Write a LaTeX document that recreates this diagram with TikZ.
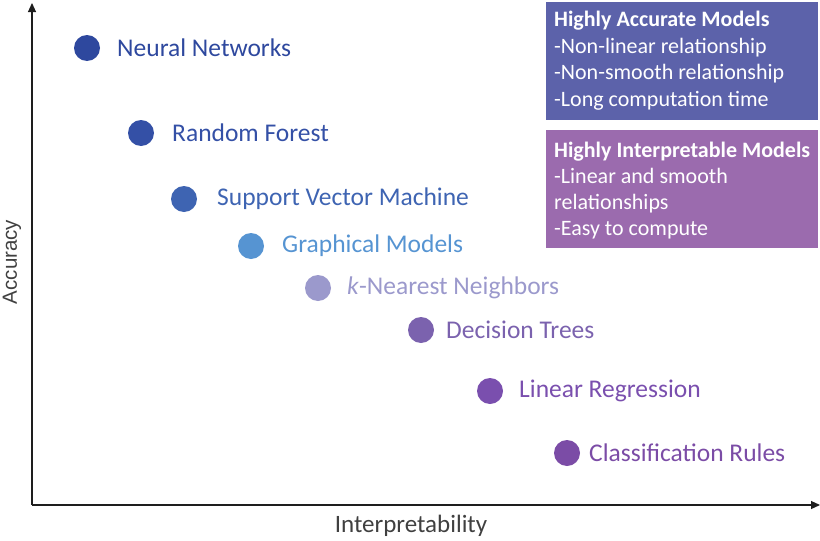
\documentclass[tikz,border=0pt]{standalone}
\usepackage{fontspec}
\setmainfont{Carlito}
\newfontfamily\arialf{Liberation Sans}
\usetikzlibrary{arrows.meta}
\definecolor{cNN}{RGB}{46,72,158}
\definecolor{cRF}{RGB}{52,80,166}
\definecolor{cSVM}{RGB}{62,100,178}
\definecolor{cGM}{RGB}{86,148,210}
\definecolor{cKNN}{RGB}{155,153,204}
\definecolor{cDT}{RGB}{123,98,174}
\definecolor{cLR}{RGB}{122,79,174}
\definecolor{cCR}{RGB}{123,76,166}
\definecolor{boxA}{RGB}{92,98,170}
\definecolor{boxB}{RGB}{155,107,174}
\definecolor{axisc}{RGB}{30,30,30}
\begin{document}
\begin{tikzpicture}[x=1pt,y=-1pt,
  dot/.style={circle,inner sep=0pt,minimum size=26pt},
  lab/.style={anchor=west,inner sep=0pt,font=\fontsize{25.5}{28}\selectfont},
  infobox/.style={anchor=north west,inner sep=0pt,minimum width=272pt,align=left,text=white},
  axis/.style={draw=axisc,line width=1.1pt,-{Triangle[length=9pt,width=8pt]}}]
\useasboundingbox (0,0) rectangle (820,541);
% axes
\coordinate (o) at (32,505);
\coordinate (ytop) at (32,3);
\coordinate (xend) at (820,505);
\draw[axis] (o) -- (ytop);
\draw[axis] (o) -- (xend);
\node[font=\fontsize{25}{28}\selectfont,text=axisc!85] (xl) at (411,526) {Interpretability};
\node[font=\arialf\fontsize{20.5}{24}\selectfont,text=axisc!85,rotate=90] (yl) at (12,262) {Accuracy};
% boxes
\node[infobox,fill=boxA,minimum height=118pt] (ba) at (546,2) {};
\node[anchor=north west,inner sep=0pt,text=white,align=left,font=\fontsize{22}{26.5}\selectfont] (ta) at (554,11)
 {\textbf{Highly Accurate Models}\\-Non-linear relationship\\-Non-smooth relationship\\-Long computation time};
\node[infobox,fill=boxB,minimum height=118pt] (bb) at (546,130) {};
\node[anchor=north west,inner sep=0pt,text=white,align=left,font=\fontsize{22}{26}\selectfont] (tb) at (554,142)
 {\textbf{Highly Interpretable Models}\\-Linear and smooth\\relationships\\-Easy to compute};
% points
\node[dot,fill=cNN] (nn) at (87,48) {};
\node[lab,text=cNN] (nnl) at (117,48) {Neural Networks};
\node[dot,fill=cRF] (rf) at (141,133) {};
\node[lab,text=cRF] (rfl) at (172,133) {Random Forest};
\node[dot,fill=cSVM] (svm) at (184,199) {};
\node[lab,text=cSVM] (svml) at (217,199) {Support Vector Machine};
\node[dot,fill=cGM] (gm) at (251,246) {};
\node[lab,text=cGM] (gml) at (282,246) {Graphical Models};
\node[dot,fill=cKNN] (knn) at (318,288) {};
\node[lab,text=cKNN] (knnl) at (347,288) {\textit{k}-Nearest Neighbors};
\node[dot,fill=cDT] (dt) at (421,330) {};
\node[lab,text=cDT] (dtl) at (446,330) {Decision Trees};
\node[dot,fill=cLR] (lr) at (490,391) {};
\node[lab,text=cLR] (lrl) at (519,391) {Linear Regression};
\node[dot,fill=cCR] (cr) at (567,453) {};
\node[lab,text=cCR] (crl) at (589,453) {Classification Rules};
\end{tikzpicture}
\end{document}
